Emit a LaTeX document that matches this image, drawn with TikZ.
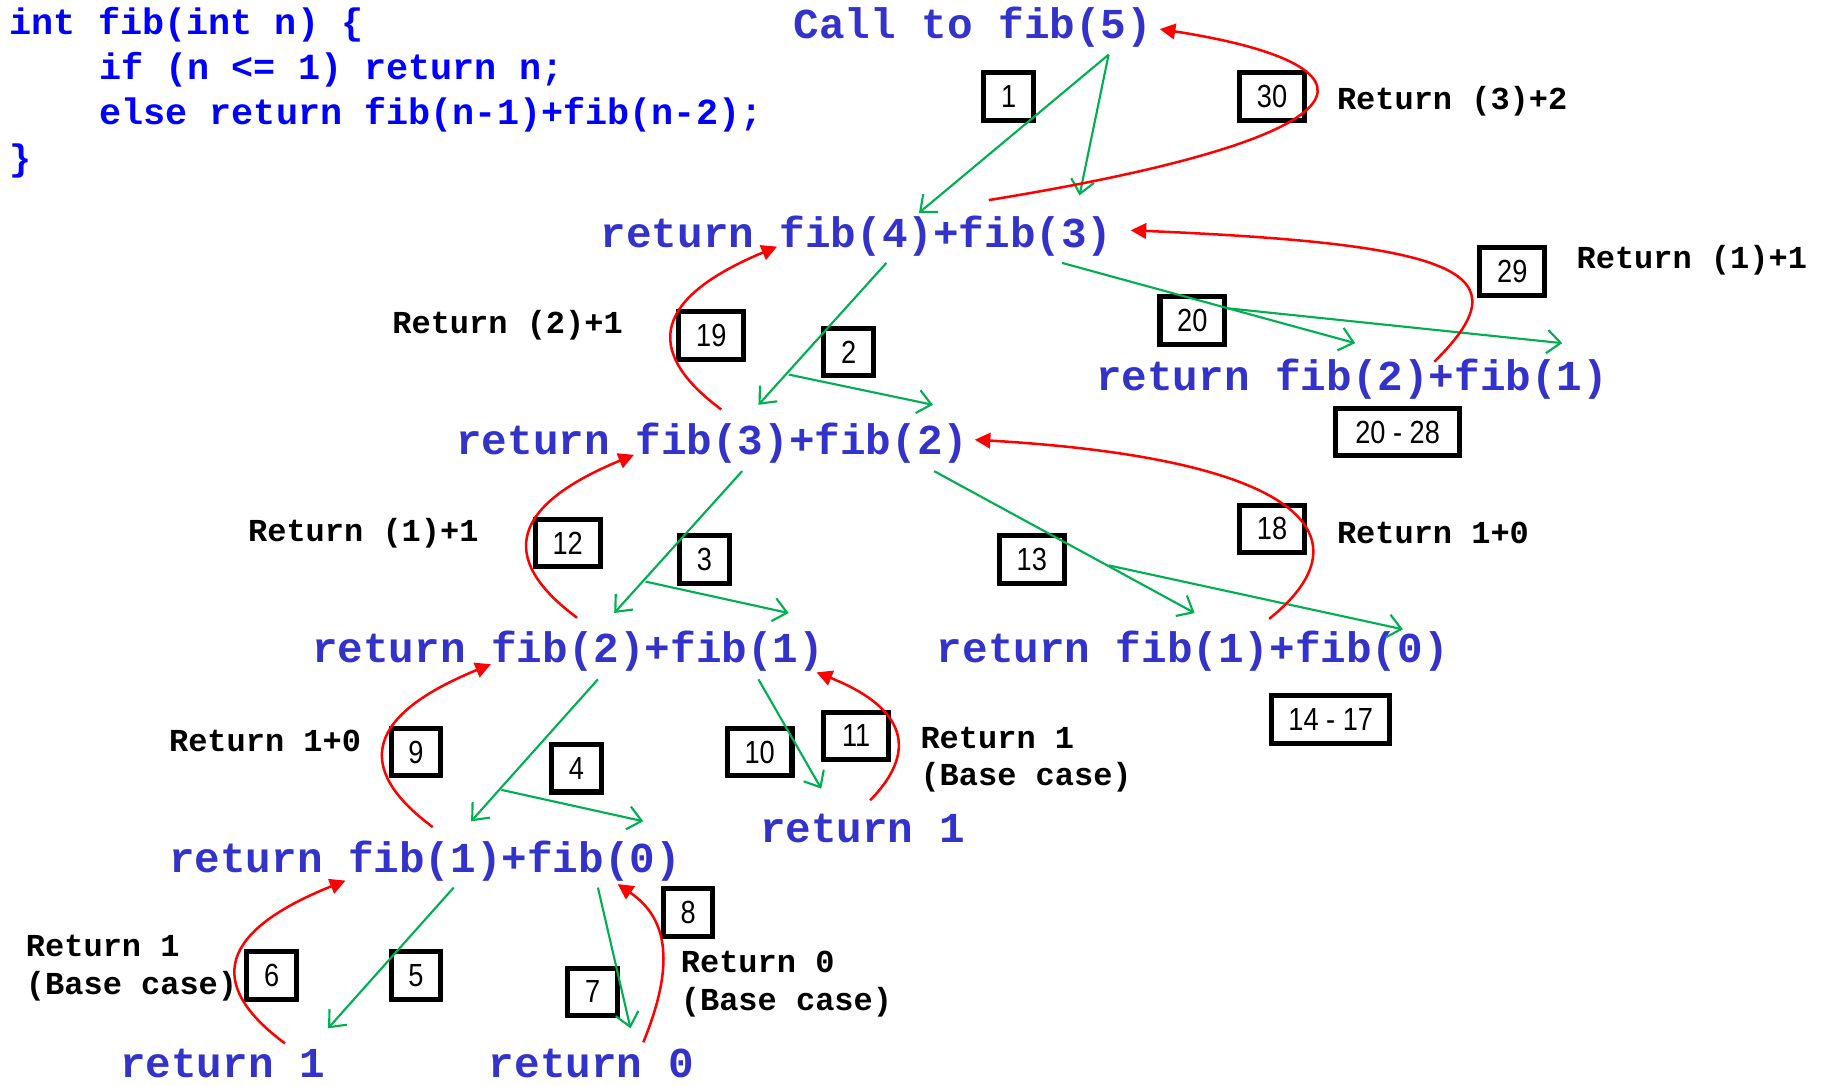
\documentclass[tikz,border=0pt]{standalone}
\usepackage{fontspec}
\usetikzlibrary{arrows.meta}
\newfontfamily\codefont{Liberation Mono}
\newfontfamily\numfont[FakeStretch=0.85]{Liberation Sans}
\definecolor{codeblue}{RGB}{0,0,255}
\definecolor{callblue}{RGB}{51,51,204}
\definecolor{callgreen}{RGB}{0,176,80}
\definecolor{retred}{RGB}{255,0,0}
\tikzset{
  codeline/.style={anchor=west, inner sep=0pt, yshift=-1.8pt, font=\codefont\bfseries\fontsize{19}{22}\selectfont, text=codeblue},
  calltext/.style={anchor=west, inner sep=0pt, yshift=-1.8pt, font=\codefont\bfseries\fontsize{22}{26}\selectfont, text=callblue},
  retlabel/.style={anchor=west, inner sep=0pt, yshift=-1.2pt, align=left, font=\codefont\bfseries\fontsize{16.5}{19.5}\selectfont},
  numbox/.style={draw, line width=2.6pt, inner sep=0pt, minimum height=24.4pt, font=\numfont\fontsize{16.5}{19}\selectfont},
  onebox/.style={numbox, minimum width=25.6pt},
  twobox/.style={numbox, minimum width=33.4pt},
  callarrow/.style={callgreen, line width=1.1pt, -{Straight Barb[length=7pt,width=12pt]}},
  retarrow/.style={retred, line width=1.3pt, -{Triangle[length=8pt,width=8pt]}}
}
\begin{document}
\begin{tikzpicture}[x=0.6pt,y=-0.6pt]
\useasboundingbox (0,0) rectangle (1568,933);

% code
\node[codeline] (c1) at (8,18) {int fib(int n) \{};
\node[codeline] (c2) at (85,57) {if (n <= 1) return n;};
\node[codeline] (c3) at (85,96) {else return fib(n-1)+fib(n-2);};
\node[codeline] (c4) at (8,135) {\}};

% call texts
\node[calltext] (t5) at (682,20) {Call to fib(5)};
\node[calltext] (t4) at (516,200) {return fib(4)+fib(3)};
\node[calltext] (t2r) at (942,323) {return fib(2)+fib(1)};
\node[calltext] (t3) at (392,378) {return fib(3)+fib(2)};
\node[calltext] (t2l) at (268,557) {return fib(2)+fib(1)};
\node[calltext] (t1r) at (805,557) {return fib(1)+fib(0)};
\node[calltext] (r1m) at (653,709) {return 1};
\node[calltext] (t1l) at (145,737) {return fib(1)+fib(0)};
\node[calltext] (r1b) at (103,911) {return 1};
\node[calltext] (r0) at (420,911) {return 0};

% labels
\node[retlabel] (l30) at (1149,85) {Return (3)+2};
\node[retlabel] (l29) at (1355,222) {Return (1)+1};
\node[retlabel] (l19) at (337,278) {Return (2)+1};
\node[retlabel] (l12) at (213,456) {Return (1)+1};
\node[retlabel] (l18) at (1149,456) {Return 1+0};
\node[retlabel] (l9) at (145,635) {Return 1+0};
\node[retlabel] (l11) at (791,651) {Return 1\\(Base case)};
\node[retlabel] (l6) at (22,830.5) {Return 1\\(Base case)};
\node[retlabel] (l8) at (585,844) {Return 0\\(Base case)};

% step boxes
\node[onebox] (b1) at (867,83) {1};
\node[twobox] (b30) at (1093.5,83) {30};
\node[twobox] (b29) at (1300,233.5) {29};
\node[twobox] (b20) at (1025,275.5) {20};
\node[twobox] (b19) at (611.5,288.5) {19};
\node[onebox] (b2) at (729.5,302.5) {2};
\node[numbox, minimum width=64pt] (b2028) at (1201.5,371.5) {20 - 28};
\node[twobox] (b12) at (488,467) {12};
\node[onebox] (b3) at (605.5,481) {3};
\node[twobox] (b13) at (887,481) {13};
\node[twobox] (b18) at (1093.5,454.5) {18};
\node[numbox, minimum width=61pt] (b1417) at (1144,618.5) {14 - 17};
\node[onebox] (b9) at (357.5,646.5) {9};
\node[onebox] (b4) at (495.5,660.5) {4};
\node[twobox] (b10) at (653,646.5) {10};
\node[twobox] (b11) at (736,632.5) {11};
\node[onebox] (b8) at (591.5,784.5) {8};
\node[onebox] (b6) at (233.5,838.5) {6};
\node[onebox] (b5) at (357.5,838.5) {5};
\node[onebox] (b7) at (509.5,852.5) {7};

% connector end points
\coordinate (g1s) at (953,47);   \coordinate (g1e) at (790,183);
\coordinate (g2e) at (928,168);
\coordinate (g3s) at (762,226);  \coordinate (g3e) at (652,348);
\coordinate (g4s) at (678,322);  \coordinate (g4e) at (802,348);
\coordinate (g5s) at (913,226);  \coordinate (g5e) at (1165,295);
\coordinate (g6s) at (1055,265); \coordinate (g6e) at (1343,295);
\coordinate (g7s) at (638,405);  \coordinate (g7e) at (528,527);
\coordinate (g8s) at (555,500);  \coordinate (g8e) at (678,527);
\coordinate (g9s) at (803,405);  \coordinate (g9e) at (1027,527);
\coordinate (g10s) at (953,486); \coordinate (g10e) at (1206,541);
\coordinate (g11s) at (514,584); \coordinate (g11e) at (405,706);
\coordinate (g12s) at (431,679); \coordinate (g12e) at (553,706);
\coordinate (g13s) at (652,584); \coordinate (g13e) at (706,678);
\coordinate (g14s) at (390,763); \coordinate (g14e) at (282,884);
\coordinate (g15s) at (514,763); \coordinate (g15e) at (542,884);

% green call arrows
\draw[callarrow] (g1s) -- (g1e);
\draw[callarrow] (g1s) -- (g2e);
\draw[callarrow] (g3s) -- (g3e);
\draw[callarrow] (g4s) -- (g4e);
\draw[callarrow] (g5s) -- (g5e);
\draw[callarrow] (g6s) -- (g6e);
\draw[callarrow] (g7s) -- (g7e);
\draw[callarrow] (g8s) -- (g8e);
\draw[callarrow] (g9s) -- (g9e);
\draw[callarrow] (g10s) -- (g10e);
\draw[callarrow] (g11s) -- (g11e);
\draw[callarrow] (g12s) -- (g12e);
\draw[callarrow] (g13s) -- (g13e);
\draw[callarrow] (g14s) -- (g14e);
\draw[callarrow] (g15s) -- (g15e);

% red return arrows
\coordinate (r1s) at (850,172);  \coordinate (r1e) at (997,25);
\coordinate (r2s) at (1233,311); \coordinate (r2e) at (972,198);
\coordinate (r3s) at (620,352);  \coordinate (r3e) at (668,212);
\coordinate (r4s) at (1091,532); \coordinate (r4e) at (838,378);
\coordinate (r5s) at (496,531);  \coordinate (r5e) at (545,391);
\coordinate (r6s) at (372,711);  \coordinate (r6e) at (422,571);
\coordinate (r7s) at (748,688);  \coordinate (r7e) at (702,578);
\coordinate (r8s) at (245,897);  \coordinate (r8e) at (297,757);
\coordinate (r9s) at (553,896);  \coordinate (r9e) at (531,760);

\draw[retarrow] (r1s) .. controls (1200,115) and (1190,55) .. (r1e);
\draw[retarrow] (r2s) .. controls (1310,235) and (1260,210) .. (r2e);
\draw[retarrow] (r3s) .. controls (550,300) and (565,255) .. (r3e);
\draw[retarrow] (r4s) .. controls (1175,465) and (1130,395) .. (r4e);
\draw[retarrow] (r5s) .. controls (426,479) and (441,434) .. (r5e);
\draw[retarrow] (r6s) .. controls (302,659) and (317,614) .. (r6e);
\draw[retarrow] (r7s) .. controls (795,640) and (770,605) .. (r7e);
\draw[retarrow] (r8s) .. controls (175,845) and (190,800) .. (r8e);
\draw[retarrow] (r9s) .. controls (580,830) and (575,790) .. (r9e);
\end{tikzpicture}
\end{document}
